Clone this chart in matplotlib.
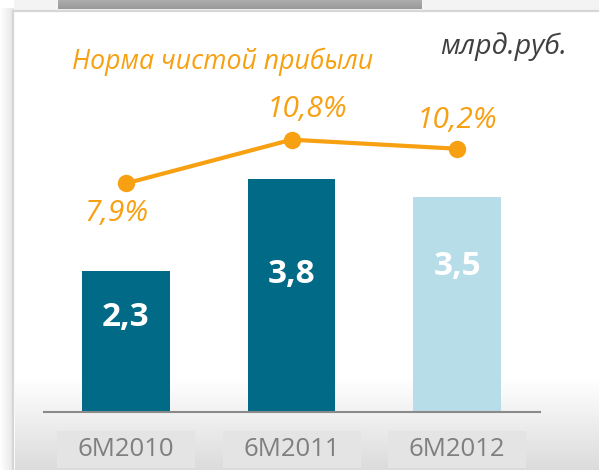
import numpy as np
import matplotlib
matplotlib.use("Agg")
import matplotlib.pyplot as plt
from matplotlib.patches import Rectangle
from matplotlib.transforms import blended_transform_factory

plt.rcParams['font.family'] = ['Open Sans', 'DejaVu Sans']

# ---- data ----
categories = ["6M2010", "6M2011", "6M2012"]
profit = [2.3, 3.8, 3.5]                 # млрд.руб.
margin = [7.9, 10.8, 10.2]               # %
profit_labels = ["2,3", "3,8", "3,5"]
margin_labels = ["7,9%", "10,8%", "10,2%"]
title = "Норма чистой прибыли"
unit = "млрд.руб."

# ---- style ----
bar_colors = ["#006A87", "#006A87", "#B7DDE8"]
orange = "#F7A011"
W, H = 599, 470
fig = plt.figure(figsize=(W / 100, H / 100), dpi=100)
fig.patch.set_facecolor("white")

# background axes in pixel coordinates
bg = fig.add_axes([0, 0, 1, 1], zorder=0)
bg.set_xlim(0, W)
bg.set_ylim(H, 0)
bg.axis("off")
# left shadow
sh = np.linspace(1.0, 0.90, 64)[None, :]
bg.imshow(np.dstack([sh, sh, sh]), extent=(0, 14, H, 8), aspect="auto", zorder=0)
# top strip
bg.add_patch(Rectangle((14, 0), W - 14, 11, facecolor="#F3F3F3", edgecolor="none", zorder=0))
# panel
bg.add_patch(Rectangle((13, 11), W - 13 + 2, H - 11 + 2, facecolor="white",
                       edgecolor="#D6D6D6", lw=1.6, zorder=1))
# bottom gradient
g = np.linspace(1.0, 0.86, 128)[:, None]
bg.imshow(np.dstack([g, g, g]), extent=(14.5, W - 1, H, 378), aspect="auto", zorder=2)
# tab
tg = np.linspace(0.68, 0.60, 32)[:, None]
bg.imshow(np.dstack([tg, tg, tg]), extent=(58, 422, 9, 0), aspect="auto", zorder=2)

# main axes
x0, x1, ybase, ytop = 44, 540, 412, 11
ax = fig.add_axes([x0 / W, (H - ybase) / H, (x1 - x0) / W, (ybase - ytop) / H], zorder=2)
ax.patch.set_alpha(0)
x = np.arange(len(categories))
ax.bar(x, profit, width=0.53, color=bar_colors, zorder=2)
ax.set_xlim(-0.495, 2.50)
ax.set_ylim(0, (ybase - ytop) / 61.3)
for s in ["top", "left", "right"]:
    ax.spines[s].set_visible(False)
ax.spines["bottom"].set_color("#8A8A8A")
ax.spines["bottom"].set_linewidth(1.5)
ax.set_xticks([])
ax.set_yticks([])

label_frac = [0.67, 0.59, 0.68]
for xi, v, t, f in zip(x, profit, profit_labels, label_frac):
    ax.text(xi, v * f, t, ha="center", va="center", color="white",
            fontsize=24, fontweight="bold", zorder=3)

# category boxes and labels
tr = blended_transform_factory(ax.transData, ax.transAxes)
ah = ybase - ytop
for xi, c in zip(x, categories):
    ax.add_patch(Rectangle((xi - 0.417, -56 / ah), 0.834, 37 / ah, transform=tr,
                           facecolor="#E4E4E4", edgecolor="none", clip_on=False, zorder=1))
    ax.text(xi, -37 / ah, c, transform=tr, ha="center", va="center",
            color="#7F7F7F", fontsize=18.5, clip_on=False)

# margin line on twin axis
ax2 = ax.twinx()
ax2.set_ylim(-7.27, 19.34)
ax2.axis("off")
ax2.plot(x, margin, color=orange, lw=3, marker="o", markersize=11.5, zorder=4)
offsets = [(-7, -22), (11, 22), (0, 20)]
for xi, v, t, off in zip(x, margin, margin_labels, offsets):
    ax2.annotate(t, (xi, v), xytext=off, textcoords="offset points",
                 ha="center", va="center", color=orange, fontsize=21.5, style="italic")

# texts
fig.text(72 / W, 1 - 62 / H, title, ha="left", va="center", color=orange,
         fontsize=19.2, style="italic")
fig.text(567 / W, 1 - 47 / H, unit, ha="right", va="center", color="#404040",
         fontsize=20.5, style="italic")

fig.savefig("out.png", dpi=100)
